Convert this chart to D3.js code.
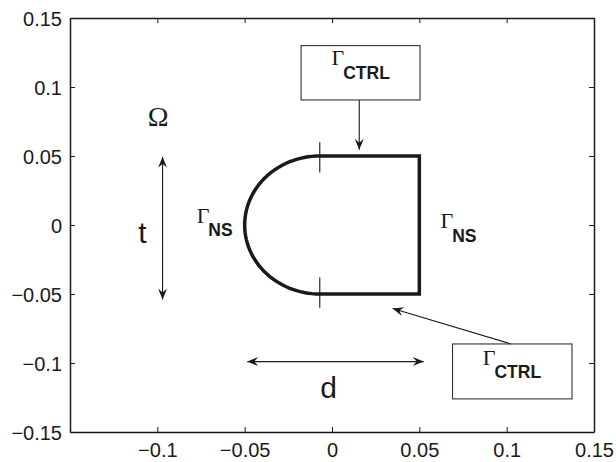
<!DOCTYPE html>
<html><head><meta charset="utf-8">
<script src="https://cdn.jsdelivr.net/npm/d3@7"></script>
<style>body{margin:0;background:#fff}svg{display:block}</style>
</head><body>
<svg id="c" width="616" height="462"></svg>
<script>
// ---- data ----
const xDomain = [-0.15, 0.15];
const yDomain = [-0.15, 0.15];
const xTicks = [-0.1, -0.05, 0, 0.05, 0.1, 0.15];
const xTickLabels = ["\u22120.1", "\u22120.05", "0", "0.05", "0.1", "0.15"];
const yTicks = [-0.15, -0.1, -0.05, 0, 0.05, 0.1, 0.15];
const yTickLabels = ["\u22120.15", "\u22120.1", "\u22120.05", "0", "0.05", "0.1", "0.15"];
// domain shape: half-ellipse (left) + rectangle (right)
const ellipseCenter = [-0.007, 0];
const ellipseSemiAxes = [0.043, 0.05];
const rectRight = 0.05;
const junctionMarks = [[-0.007, 0.038, 0.06], [-0.007, -0.038, -0.06]]; // x, y1, y2
// dimension arrows (double headed)
const dimArrows = [
  {x1: -0.097, y1: 0.0495, x2: -0.097, y2: -0.054},
  {x1: -0.0485, y1: -0.099, x2: 0.0525, y2: -0.099}
];
// annotation boxes [x0, y0, x1, y1]
const boxes = [[-0.0177, 0.130, 0.0504, 0.0906], [0.069, -0.0862, 0.1374, -0.126]];
// pointer arrows (single head at end)
const pointers = [
  {x1: 0.0156, y1: 0.0906, x2: 0.0156, y2: 0.0545},
  {x1: 0.1024, y1: -0.0862, x2: 0.0347, y2: -0.0605}
];
// Gamma labels: x, y (baseline of Γ), subscript
const gammaLabels = [
  {x: -0.0775, y: 0.0015, sub: "NS"},
  {x: 0.0621, y: -0.0023, sub: "NS"},
  {x: -0.0003, y: 0.1159, sub: "CTRL"},
  {x: 0.0863, y: -0.1014, sub: "CTRL"}
];
const plainLabels = [
  {x: -0.0996, y: 0.0717, text: "\u03A9", serif: true, size: 28},
  {x: -0.1085, y: -0.0130, text: "t", serif: false, size: 30},
  {x: -0.0020, y: -0.1250, text: "d", serif: false, size: 30}
];

// ---- layout ----
const svg = d3.select("#c");
const L = 70, R = 594, T = 18, B = 432;
const x = d3.scaleLinear().domain(xDomain).range([L, R]);
const y = d3.scaleLinear().domain(yDomain).range([B, T]);
const sans = "'Liberation Sans', Arial, Helvetica, sans-serif";
const serif = "'Liberation Serif', 'Times New Roman', serif";
const ink = "#1a1a1a";

// axes (box with inward ticks on all sides)
const fmtX = (d, i) => xTickLabels[i];
const fmtY = (d, i) => yTickLabels[i];
const gB = svg.append("g").attr("transform", `translate(0,${B})`)
  .call(d3.axisBottom(x).tickValues(xTicks).tickFormat(fmtX).tickSizeInner(-5).tickSizeOuter(0).tickPadding(11));
const gL = svg.append("g").attr("transform", `translate(${L},0)`)
  .call(d3.axisLeft(y).tickValues(yTicks).tickFormat(fmtY).tickSizeInner(-5).tickSizeOuter(0).tickPadding(8));
const gT = svg.append("g").attr("transform", `translate(0,${T})`)
  .call(d3.axisTop(x).tickValues(xTicks).tickFormat("").tickSizeInner(-5).tickSizeOuter(0));
const gR = svg.append("g").attr("transform", `translate(${R},0)`)
  .call(d3.axisRight(y).tickValues(yTicks).tickFormat("").tickSizeInner(-5).tickSizeOuter(0));
[gB, gL, gT, gR].forEach(g => {
  g.attr("font-size", null).attr("font-family", null);
  g.selectAll(".domain").attr("stroke", ink).attr("stroke-width", 1.5);
  g.selectAll(".tick line").attr("stroke", ink).attr("stroke-width", 1);
  g.selectAll("text").style("font-family", sans).style("font-size", "20px").attr("fill", ink);
});
gB.selectAll("text").attr("dy", "0.71em");
gL.selectAll("text").attr("dy", "0.36em");

// domain shape
const [cx, cy] = ellipseCenter, [ea, eb] = ellipseSemiAxes;
const nSeg = 60;
const arcPts = d3.range(nSeg + 1).map(i => {
  const th = Math.PI / 2 + Math.PI * i / nSeg;
  return [cx + ea * Math.cos(th), cy + eb * Math.sin(th)];
});
const shapePts = arcPts.concat([[rectRight, cy - eb], [rectRight, cy + eb], [cx, cy + eb]]);
svg.append("path")
  .attr("d", d3.line().x(d => x(d[0])).y(d => y(d[1]))(shapePts))
  .attr("fill", "none").attr("stroke", ink).attr("stroke-width", 3.5).attr("stroke-linejoin", "miter");
svg.selectAll(".jm").data(junctionMarks).join("line")
  .attr("x1", d => x(d[0])).attr("x2", d => x(d[0]))
  .attr("y1", d => y(d[1])).attr("y2", d => y(d[2]))
  .attr("stroke", ink).attr("stroke-width", 1.1);

// arrowhead helper
function head(xt, yt, xf, yf) {
  const ang = Math.atan2(yt - yf, xt - xf);
  const len = 11, hw = 4.5, back = 7;
  const p = (l, w) => [xt - l * Math.cos(ang) - w * Math.sin(ang), yt - l * Math.sin(ang) + w * Math.cos(ang)];
  const a = p(len, hw), b = p(back, 0), c = p(len, -hw);
  return `M${xt},${yt}L${a[0]},${a[1]}L${b[0]},${b[1]}L${c[0]},${c[1]}Z`;
}
const ag = svg.append("g");
dimArrows.forEach(d => {
  const X1 = x(d.x1), Y1 = y(d.y1), X2 = x(d.x2), Y2 = y(d.y2);
  ag.append("line").attr("x1", X1).attr("y1", Y1).attr("x2", X2).attr("y2", Y2)
    .attr("stroke", ink).attr("stroke-width", 1.1);
  ag.append("path").attr("d", head(X1, Y1, X2, Y2)).attr("fill", ink);
  ag.append("path").attr("d", head(X2, Y2, X1, Y1)).attr("fill", ink);
});
pointers.forEach(d => {
  const X1 = x(d.x1), Y1 = y(d.y1), X2 = x(d.x2), Y2 = y(d.y2);
  ag.append("line").attr("x1", X1).attr("y1", Y1).attr("x2", X2).attr("y2", Y2)
    .attr("stroke", ink).attr("stroke-width", 1.1);
  ag.append("path").attr("d", head(X2, Y2, X1, Y1)).attr("fill", ink);
});

// boxes
svg.selectAll(".box").data(boxes).join("rect")
  .attr("x", d => x(d[0])).attr("y", d => y(d[1]))
  .attr("width", d => x(d[2]) - x(d[0])).attr("height", d => y(d[3]) - y(d[1]))
  .attr("fill", "none").attr("stroke", "#333").attr("stroke-width", 1.1);

// Gamma labels
gammaLabels.forEach(d => {
  const t = svg.append("text").attr("x", x(d.x)).attr("y", y(d.y)).attr("fill", ink);
  t.append("tspan").style("font-family", serif).style("font-size", "22px").text("\u0393");
  t.append("tspan").style("font-family", sans).style("font-weight", "bold").style("font-size", "17.5px")
    .attr("dx", -1).attr("dy", 13.5).text(d.sub);
});
plainLabels.forEach(d => {
  svg.append("text").attr("x", x(d.x)).attr("y", y(d.y)).attr("text-anchor", "middle")
    .style("font-family", d.serif ? serif : sans).style("font-size", d.size + "px").attr("fill", ink).text(d.text);
});
</script>
</body></html>
